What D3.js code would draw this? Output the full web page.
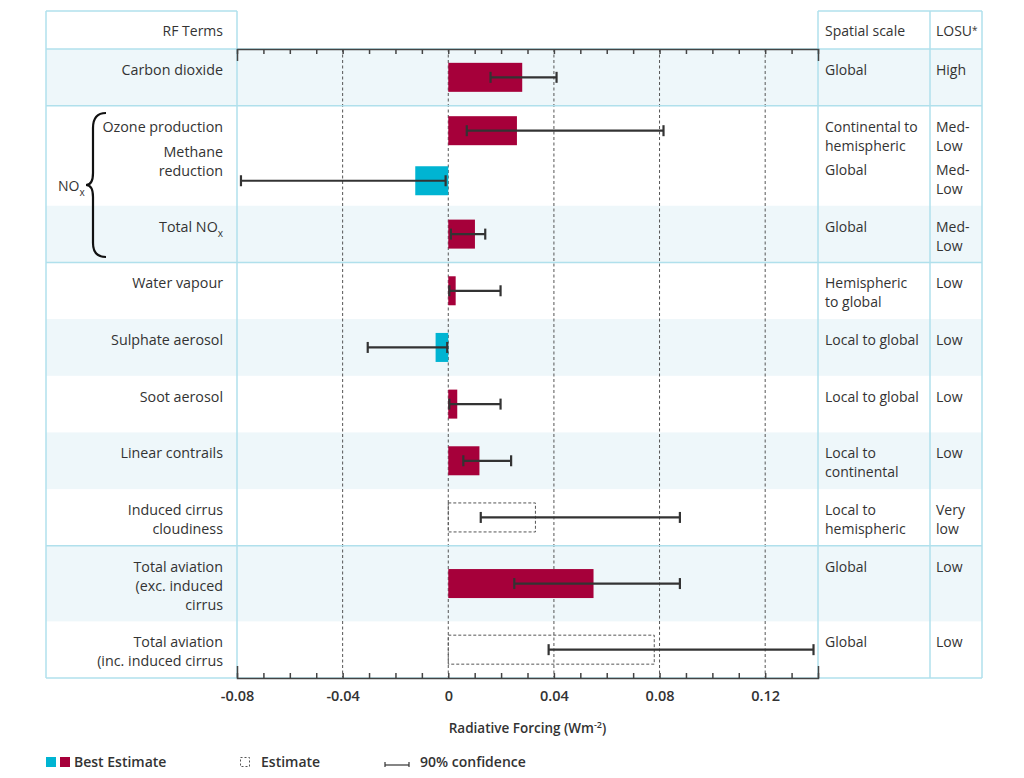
<!DOCTYPE html>
<html>
<head>
<meta charset="utf-8">
<script src="https://cdn.jsdelivr.net/npm/d3@7"></script>
<style>
  body { margin: 0; background: #fff; }
  svg text { font-family: "Open Sans", "Noto Sans", sans-serif; fill: #333; }
</style>
</head>
<body>
<svg id="chart"></svg>
<script>
// RF terms, one entry per bar row
const termLabels = [
  ["Carbon dioxide"],
  ["Ozone production"],
  ["Methane", "reduction"],
  ["Total NOx"],
  ["Water vapour"],
  ["Sulphate aerosol"],
  ["Soot aerosol"],
  ["Linear contrails"],
  ["Induced cirrus", "cloudiness"],
  ["Total aviation", "(exc. induced", "cirrus"],
  ["Total aviation", "(inc. induced cirrus"]
];
// best estimate (solid bars), null where only a dashed estimate is given
const bestEstimate = [0.028, 0.026, -0.0125, 0.0101, 0.0028, -0.0048, 0.0034, 0.0118, null, 0.055, null];
// dashed estimate boxes
const roughEstimate = [null, null, null, null, null, null, null, null, 0.033, null, 0.078];
// 90% confidence range
const confLow = [0.016, 0.007, -0.0785, 0.001, 0.0004, -0.0305, 0.0004, 0.0057, 0.0123, 0.025, 0.038];
const confHigh = [0.041, 0.0815, -0.001, 0.014, 0.0198, -0.0004, 0.0198, 0.0238, 0.0877, 0.0877, 0.1383];
const spatialScale = [
  ["Global"], ["Continental to", "hemispheric"], ["Global"], ["Global"],
  ["Hemispheric", "to global"], ["Local to global"], ["Local to global"],
  ["Local to", "continental"], ["Local to", "hemispheric"], ["Global"], ["Global"]
];
const losu = [
  ["High"], ["Med-", "Low"], ["Med-", "Low"], ["Med-", "Low"], ["Low"], ["Low"],
  ["Low"], ["Low"], ["Very", "low"], ["Low"], ["Low"]
];
const xTicks = d3.range(-8, 15).map(i => i / 100);
const xLabelTicks = [-0.08, -0.04, 0, 0.04, 0.08, 0.12];

// layout
const rowUnits = [3, 2.65, 2.65, 3, 3, 3, 3, 3, 3, 4, 3];
const shaded = [true, false, false, true, false, true, false, true, false, true, false];
const groupEnds = [0, 3, 8];          // a table rule below these rows
const labelShift = [0, 0, -25, 0, 0, 0, 0, 0, 0, 0, 0];
const cellShift = [0, 0, -6.5, 0, 0, 0, 0, 0, 0, 0, 0];

const W = 1024, H = 778;
const tableLeft = 46, tableTop = 11, headBottom = 49, tableBottom = 678;
const plotLeft = 237, plotRight = 818, spatialLeft = 818, losuLeft = 930, tableRight = 982;
const lineH = 19, barH = 29;
const red = "#a6003a", cyan = "#00b4d2", rule = "#b0e0ec", band = "#eef7fa";

const svg = d3.select("#chart").attr("width", W).attr("height", H);

const x = d3.scaleLinear().domain([-0.08, 0.14]).range([plotLeft, plotRight]);
const starts = [0, ...d3.cumsum(rowUnits)];
const y = d3.scaleLinear().domain([0, d3.sum(rowUnits)]).range([headBottom, tableBottom]);
const rowTop = i => y(starts[i]);
const rowMid = i => (y(starts[i]) + y(starts[i + 1])) / 2;

// row backgrounds
svg.selectAll(".band")
  .data(rowUnits.map((u, i) => i).filter(i => shaded[i]))
  .enter().append("rect")
  .attr("x", tableLeft)
  .attr("y", i => rowTop(i))
  .attr("width", tableRight - tableLeft)
  .attr("height", i => y(starts[i + 1]) - rowTop(i))
  .attr("fill", band);

// dashed grid
svg.selectAll(".grid")
  .data(xLabelTicks.filter(d => d > -0.08))
  .enter().append("line")
  .attr("x1", d => x(d)).attr("x2", d => x(d))
  .attr("y1", headBottom).attr("y2", tableBottom)
  .attr("stroke", "#555").attr("stroke-width", 1)
  .attr("stroke-dasharray", "3,2.5");

// table rules
const rules = svg.append("g").attr("stroke", rule).attr("stroke-width", 1.5).attr("fill", "none");
[tableLeft, plotLeft, spatialLeft, losuLeft, tableRight].forEach(cx => {
  rules.append("line").attr("x1", cx).attr("x2", cx).attr("y1", tableTop).attr("y2", tableBottom);
});
[[tableLeft, plotLeft], [spatialLeft, tableRight]].forEach(([a, b]) => {
  rules.append("line").attr("x1", a).attr("x2", b).attr("y1", tableTop).attr("y2", tableTop);
});
[headBottom, ...groupEnds.map(i => y(starts[i + 1])), tableBottom].forEach(ry => {
  rules.append("line").attr("x1", tableLeft).attr("x2", tableRight).attr("y1", ry).attr("y2", ry);
});

// bars
svg.selectAll(".bar")
  .data(bestEstimate.map((v, i) => ({ v, i })).filter(d => d.v !== null))
  .enter().append("rect")
  .attr("x", d => x(Math.min(0, d.v)))
  .attr("y", d => rowMid(d.i) - barH / 2)
  .attr("width", d => Math.abs(x(d.v) - x(0)))
  .attr("height", barH)
  .attr("fill", d => d.v < 0 ? cyan : red);

// dashed estimate boxes
svg.selectAll(".est")
  .data(roughEstimate.map((v, i) => ({ v, i })).filter(d => d.v !== null))
  .enter().append("rect")
  .attr("x", x(0))
  .attr("y", d => rowMid(d.i) - barH / 2)
  .attr("width", d => x(d.v) - x(0))
  .attr("height", barH)
  .attr("fill", "none").attr("stroke", "#555").attr("stroke-width", 1)
  .attr("stroke-dasharray", "3,2");

// error bars
const err = svg.append("g").attr("stroke", "#333").attr("stroke-width", 2.2);
confLow.forEach((lo, i) => {
  const cy = rowMid(i);
  err.append("line").attr("x1", x(lo)).attr("x2", x(confHigh[i])).attr("y1", cy).attr("y2", cy);
  [lo, confHigh[i]].forEach(v => {
    err.append("line").attr("x1", x(v)).attr("x2", x(v)).attr("y1", cy - 5.5).attr("y2", cy + 5.5);
  });
});

// axes top and bottom
const topAxis = svg.append("g")
  .attr("transform", `translate(0,${headBottom})`)
  .call(d3.axisTop(x).tickValues(xTicks).tickSize(-5).tickSizeOuter(-12).tickFormat(""));
const bottomAxis = svg.append("g")
  .attr("transform", `translate(0,${tableBottom})`)
  .call(d3.axisBottom(x).tickValues(xTicks).tickSize(-5).tickSizeOuter(-12).tickPadding(13)
    .tickFormat(d => xLabelTicks.some(t => Math.abs(t - d) < 1e-9) ? (Math.abs(d) < 1e-9 ? "0" : d.toFixed(2)) : ""));
[topAxis, bottomAxis].forEach(g => {
  g.selectAll("path, line").attr("stroke", "#444").attr("stroke-width", 1.5);
});
bottomAxis.selectAll("text")
  .style("font-family", "'Open Sans', sans-serif").style("font-size", "14.5px")
  .style("font-weight", 600).attr("fill", "#333");

// helper for multi-line text, with NOx subscript
function addLines(g, lines, tx, ty, anchor, size) {
  lines.forEach((line, k) => {
    const t = g.append("text")
      .attr("x", tx).attr("y", ty + k * lineH).attr("dy", "0.35em")
      .attr("text-anchor", anchor).style("font-size", size + "px");
    if (line.endsWith("NOx")) {
      t.append("tspan").text(line.slice(0, -1));
      t.append("tspan").text("x").style("font-size", "10px").attr("dy", "5");
    } else if (line.endsWith("*")) {
      t.append("tspan").text(line.slice(0, -1));
      t.append("tspan").text("*").style("font-size", "10px").attr("dy", "-2");
    } else {
      t.text(line);
    }
  });
}

const labels = svg.append("g");
addLines(labels, ["RF Terms"], 223, 31.5, "end", 14);
addLines(labels, ["Spatial scale"], 825, 31.5, "start", 14);
addLines(labels, ["LOSU*"], 936, 31.5, "start", 14);
termLabels.forEach((lines, i) => {
  const top = rowTop(i) + 21;
  addLines(labels, lines, 223, top + labelShift[i], "end", 14.3);
  addLines(labels, spatialScale[i], 825, top + cellShift[i], "start", 14);
  addLines(labels, losu[i], 936, top + cellShift[i], "start", 14);
});

// NOx brace
svg.append("path")
  .attr("d", "M106,113 C97,113 93,118 93,128 L93,173 C93,181 91,185 86,185 C91,185 93,189 93,197 L93,243 C93,252 97,257 106,257")
  .attr("fill", "none").attr("stroke", "#111").attr("stroke-width", 2.2);
addLines(labels, ["NOx"], 58, 186, "start", 14);

// axis title
const title = svg.append("text")
  .attr("x", (plotLeft + plotRight) / 2).attr("y", 728).attr("dy", "0.35em")
  .attr("text-anchor", "middle").style("font-size", "13.5px").style("font-weight", 600);
title.append("tspan").text("Radiative Forcing (Wm");
title.append("tspan").text("-2").style("font-size", "9px").attr("dy", "-5");
title.append("tspan").text(")").attr("dy", "5");

// legend
const legend = svg.append("g").style("font-size", "14px").style("font-weight", 600);
legend.append("rect").attr("x", 46).attr("y", 757).attr("width", 10).attr("height", 10).attr("fill", cyan);
legend.append("rect").attr("x", 60).attr("y", 757).attr("width", 10).attr("height", 10).attr("fill", red);
legend.append("text").attr("x", 74).attr("y", 762).attr("dy", "0.35em").text("Best Estimate");
legend.append("rect").attr("x", 240.5).attr("y", 757.5).attr("width", 9).attr("height", 9)
  .attr("fill", "none").attr("stroke", "#555").attr("stroke-dasharray", "2,2");
legend.append("text").attr("x", 261).attr("y", 762).attr("dy", "0.35em").text("Estimate");
const lg = legend.append("g").attr("stroke", "#333").attr("stroke-width", 1.2);
lg.append("line").attr("x1", 385).attr("x2", 409).attr("y1", 765).attr("y2", 765);
[385, 409].forEach(v => lg.append("line").attr("x1", v).attr("x2", v).attr("y1", 762).attr("y2", 767));
legend.append("text").attr("x", 420).attr("y", 762).attr("dy", "0.35em").text("90% confidence");
</script>
</body>
</html>
